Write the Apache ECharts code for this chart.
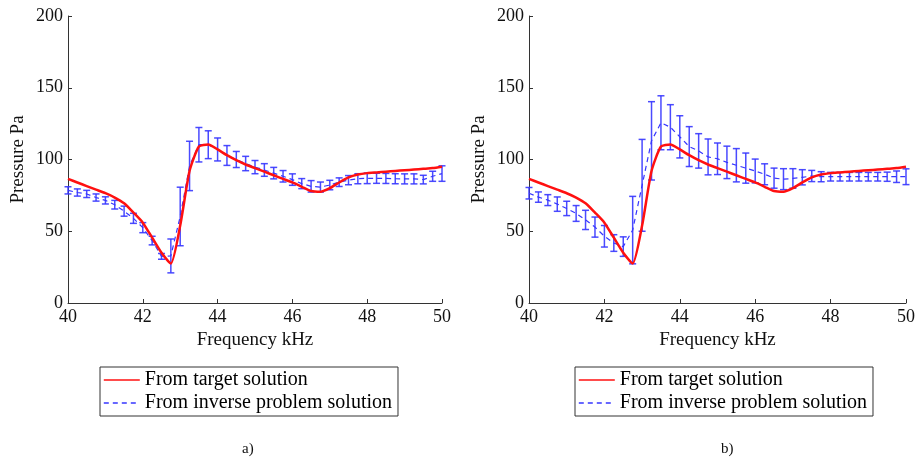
<!DOCTYPE html>
<html>
<head>
<meta charset="utf-8">
<script src="https://cdn.jsdelivr.net/npm/echarts@6/dist/echarts.min.js"></script>
<style>
  html, body { margin: 0; padding: 0; background: #fff; }
  #chart { width: 919px; height: 460px; }
</style>
</head>
<body>
<div id="chart"></div>
<script>
// Frequency samples, kHz
const freq = [40, 40.25, 40.5, 40.75, 41, 41.25, 41.5, 41.75, 42, 42.25, 42.5, 42.75,
  43, 43.25, 43.5, 43.75, 44, 44.25, 44.5, 44.75, 45, 45.25, 45.5, 45.75, 46, 46.25,
  46.5, 46.75, 47, 47.25, 47.5, 47.75, 48, 48.25, 48.5, 48.75, 49, 49.25, 49.5, 49.75, 50];

// Pressure from the target solution, Pa
const target = [86.5, 84, 81.5, 79, 76.5, 73.5, 69.5, 63, 56, 45.5, 35, 27.5,
  54, 92, 109, 110.5, 107, 103, 99.5, 96.5, 94, 91.5, 89, 86.5, 84, 81,
  78, 77.5, 80, 84, 87.5, 89.5, 90.5, 91, 91.5, 92, 92.5, 93, 93.5, 94, 95];

// Case a): inverse problem mean and error half-width, Pa
const meanA = [78.5, 77, 76, 73.5, 71.5, 68.5, 64, 59, 52.5, 43.5, 32.5, 32.8,
  60.3, 95.5, 110.3, 110.3, 107, 102.8, 100, 97.2, 94.7, 92.7, 90.5, 88.3, 86, 83.2,
  81.3, 80.8, 82.2, 84.2, 85.6, 86.6, 86.9, 86.9, 86.8, 86.6, 86.5, 86.5, 86, 88.3, 90.2];
const errA = [2.5, 2.5, 2.5, 2.5, 2.5, 3, 3.5, 3.5, 3.5, 3, 2, 11.8,
  20.4, 17.2, 12, 9.7, 8, 6.9, 5.6, 5, 4.6, 4.4, 4, 4, 4, 3.5,
  4, 3.5, 3.3, 3, 3.2, 3.5, 3.7, 3.5, 3.5, 3.5, 3.5, 3.5, 3, 3.5, 5.4];

// Case b): inverse problem mean and error half-width, Pa
const meanB = [76.5, 73.8, 71.7, 68.9, 65.9, 62.4, 57.9, 52.9, 46.5, 41.8, 39.3, 50.8,
  82, 113, 125.6, 122.5, 115.8, 109, 106, 101.8, 100.5, 98, 96, 94, 92, 89.7,
  87, 86.3, 86.8, 87.6, 88.5, 88, 88, 88, 88, 88, 88, 88, 88, 88, 88];
const errB = [4, 3.6, 3.8, 5, 5, 5.5, 6.7, 7, 7.5, 5.8, 6.8, 23.5,
  32, 27.3, 18.8, 15.7, 14.7, 13.9, 12, 12.5, 11, 11.3, 11.6, 10.5, 8.3, 7.3,
  7, 7.3, 6.8, 5.3, 3.9, 3.5, 3, 3, 3, 3, 3, 3, 3.2, 4, 5.5];

const NAME_T = 'From target solution';
const NAME_I = 'From inverse problem solution';
const FONT = "'Liberation Serif', 'Times New Roman', serif";
const RED = '#ff1010';
const BLUE = '#3636ff';

const pairs = (ys) => freq.map((f, i) => [f, ys[i]]);
const bars = (m, e) => freq.map((f, i) => [f, m[i] - e[i], m[i] + e[i]]);

// Vertical error bar with caps, placed through the axis scales
function renderErrorBar(params, api) {
  const x = api.value(0);
  const lo = api.coord([x, api.value(1)]);
  const hi = api.coord([x, api.value(2)]);
  const hw = 3.5;
  const style = { stroke: BLUE, lineWidth: 1.5, opacity: 0.9 };
  return {
    type: 'group',
    children: [
      { type: 'line', shape: { x1: hi[0], y1: hi[1], x2: lo[0], y2: lo[1] }, style },
      { type: 'line', shape: { x1: hi[0] - hw, y1: hi[1], x2: hi[0] + hw, y2: hi[1] }, style },
      { type: 'line', shape: { x1: lo[0] - hw, y1: lo[1], x2: lo[0] + hw, y2: lo[1] }, style }
    ]
  };
}

const axisLine = { lineStyle: { color: '#333', width: 1 } };
const axisTick = { inside: true, length: 4, lineStyle: { color: '#333' } };
const axisLabel = { color: '#111', fontFamily: FONT, fontSize: 18 };

function xAxis(idx) {
  return {
    type: 'value', gridIndex: idx, min: 40, max: 50, interval: 2,
    name: 'Frequency kHz', nameLocation: 'middle', nameGap: 26,
    nameTextStyle: { color: '#111', fontFamily: FONT, fontSize: 19 },
    axisLine, axisTick, axisLabel: Object.assign({ margin: 5 }, axisLabel),
    splitLine: { show: false }
  };
}
function yAxis(idx) {
  return {
    type: 'value', gridIndex: idx, min: 0, max: 200, interval: 50,
    name: 'Pressure Pa', nameLocation: 'middle', nameGap: 40,
    nameTextStyle: { color: '#111', fontFamily: FONT, fontSize: 19 },
    axisLine: Object.assign({ show: true }, axisLine), axisTick,
    axisLabel: Object.assign({ margin: 5 }, axisLabel),
    splitLine: { show: false }
  };
}

function legend(left) {
  return {
    left: left, top: 367, orient: 'vertical',
    data: [NAME_T, NAME_I],
    padding: [3, 6, 3, 3], itemGap: 3, itemWidth: 36, itemHeight: 20,
    borderColor: '#333', borderWidth: 1, borderRadius: 0,
    itemStyle: { opacity: 0 },
    lineStyle: { width: 1.6 },
    textStyle: { color: '#000', fontFamily: FONT, fontSize: 20 },
    selectedMode: false
  };
}

function seriesFor(idx, mean, err) {
  return [
    {
      type: 'custom', xAxisIndex: idx, yAxisIndex: idx, z: 2,
      renderItem: renderErrorBar, data: bars(mean, err), silent: true
    },
    {
      name: NAME_I, type: 'line', xAxisIndex: idx, yAxisIndex: idx, z: 3,
      data: pairs(mean), symbol: 'none', smooth: false,
      lineStyle: { color: BLUE, width: 1.2, type: [5, 4] },
      itemStyle: { color: BLUE }
    },
    {
      name: NAME_T, type: 'line', xAxisIndex: idx, yAxisIndex: idx, z: 4,
      data: pairs(target), symbol: 'none', smooth: 0.2,
      lineStyle: { color: RED, width: 2.5 },
      itemStyle: { color: RED }
    }
  ];
}

const chart = echarts.init(document.getElementById('chart'), null, { renderer: 'canvas' });
chart.setOption({
  backgroundColor: '#fff',
  animation: false,
  title: [
    { text: 'a)', left: 237, top: 437, textStyle: { fontFamily: FONT, fontSize: 15, fontWeight: 'normal', color: '#111' } },
    { text: 'b)', left: 716, top: 437, textStyle: { fontFamily: FONT, fontSize: 15, fontWeight: 'normal', color: '#111' } }
  ],
  grid: [
    { left: 68, top: 16, width: 374, height: 287 },
    { left: 529, top: 16, width: 377, height: 287 }
  ],
  xAxis: [xAxis(0), xAxis(1)],
  yAxis: [yAxis(0), yAxis(1)],
  legend: [legend(100), legend(575)],
  series: seriesFor(0, meanA, errA).concat(seriesFor(1, meanB, errB))
});
</script>
</body>
</html>
